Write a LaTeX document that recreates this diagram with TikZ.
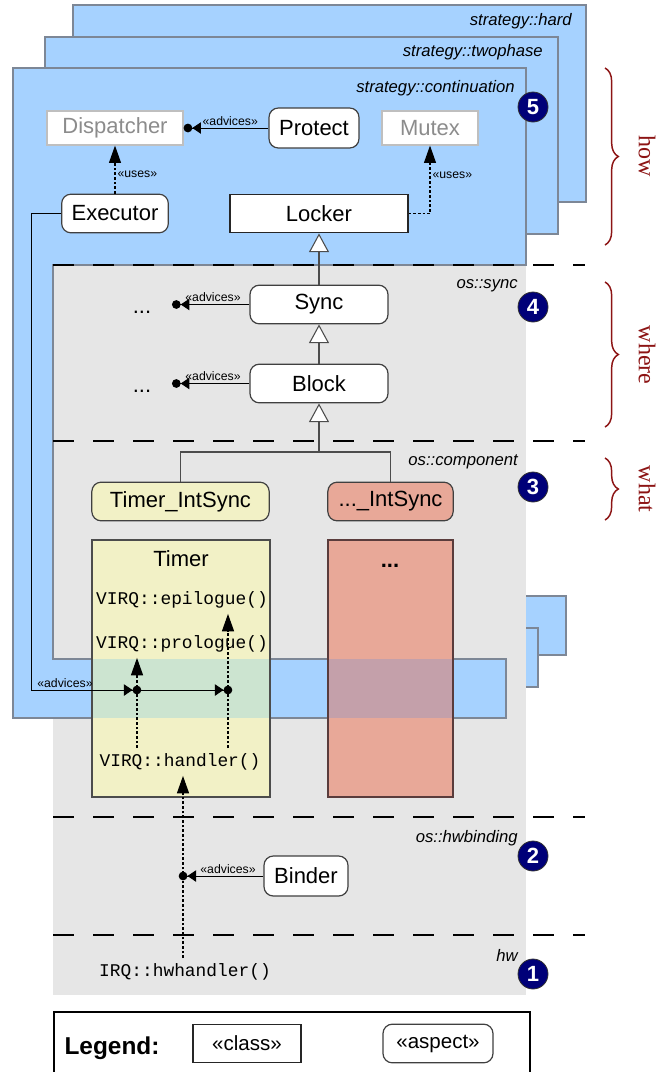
\documentclass[tikz,border=0pt]{standalone}
\usepackage{fontspec}
\setmainfont{Liberation Sans}
\setmonofont{Liberation Mono}
\newfontfamily\braceserif{Liberation Serif}
\usetikzlibrary{arrows.meta}
\usetikzlibrary{decorations.pathreplacing}

\definecolor{panelblue}{RGB}{166,210,255}
\definecolor{panelline}{RGB}{125,135,150}
\definecolor{layergray}{RGB}{230,230,230}
\definecolor{timeryellow}{RGB}{242,241,198}
\definecolor{otherred}{RGB}{232,168,152}
\definecolor{timerband}{RGB}{204,228,208}
\definecolor{otherband}{RGB}{196,160,170}
\definecolor{otherline}{RGB}{90,60,60}
\definecolor{numnavy}{RGB}{0,0,120}
\definecolor{bracered}{RGB}{140,20,20}

\newcommand\boxfont{\fontsize{16.5pt}{19pt}\selectfont}
\newcommand\stereofont{\fontsize{9.2pt}{11pt}\selectfont}
\newcommand\lyrfont{\fontsize{12.5pt}{15pt}\selectfont\itshape}
\newcommand\virqfont{\fontsize{13.4pt}{16pt}\selectfont\ttfamily}
\newcommand\numfont{\fontsize{16.5pt}{18pt}\selectfont\bfseries}
\newcommand\legendfont{\fontsize{15.4pt}{18pt}\selectfont}

\begin{document}
\begin{tikzpicture}[x=0.75pt, y=-0.75pt,
    panel/.style={fill=panelblue, draw=panelline, line width=1.1pt},
    stratpanel/.pic={\draw[panel] (0,0) -- (513,0) -- (513,197) -- (40,197) -- (40,591) -- (493,591) -- (493,650) -- (0,650) -- cycle;},
    aspectbox/.style={draw=black!75, fill=white, rounded corners=7pt, line width=0.9pt, font=\boxfont, minimum height=29pt, inner sep=2pt},
    classbox/.style={draw=black!85, fill=white, line width=0.9pt, font=\boxfont, minimum height=29pt, inner sep=2pt},
    ghost/.style={draw=black!25, fill=white, text=black!45, line width=0.9pt, font=\boxfont, minimum height=25.5pt},
    layerlabel/.style={font=\lyrfont, anchor=east, inner sep=0pt},
    codeline/.style={font=\virqfont, inner sep=4pt},
    stereo/.style={font=\stereofont, inner sep=1.5pt},
    advice/.style={draw=black, line width=0.75pt, -{Triangle[length=6.5pt,width=8.5pt] Circle[length=6.5pt]}},
    onjp/.style={shorten >=-3.2pt},
    uses/.style={draw=black, line width=0.8pt, dash pattern=on 2pt off 1.5pt, -{Triangle[length=13pt,width=9pt]}},
    generalize/.style={draw=black!70, line width=0.8pt, -{Triangle[length=14pt,width=15pt,fill=white]}},
    layersep/.style={draw=black, line width=1.6pt, dash pattern=on 15.75pt off 14.25pt},
    numdot/.style={circle, fill=numnavy, draw=black!80, line width=0.6pt, text=white, font=\numfont, minimum size=22.5pt, inner sep=0pt},
    bracedeco/.style={draw=bracered, line width=1.1pt, decorate, decoration={brace, amplitude=10pt}},
    bracelabel/.style={text=bracered, font=\braceserif\fontsize{18pt}{20pt}\selectfont, rotate=-90}]

    \useasboundingbox (0,0) rectangle (671,1072);

    % strategy panels and the os layers
    \pic at (73,5) {stratpanel};
    \pic at (45,37) {stratpanel};
    \fill[layergray] (53,265) rectangle (526,995);
    \pic at (13,68) {stratpanel};

    \node[layerlabel] (hardlbl) at (572,21) {strategy::hard};
    \node[layerlabel] (twolbl) at (543,52) {strategy::twophase};
    \node[layerlabel] (contlbl) at (515,88) {strategy::continuation};
    \node[layerlabel] (synclbl) at (518,286) {os::sync};
    \node[layerlabel] (complbl) at (518,462) {os::component};
    \node[layerlabel] (hwblbl) at (518,838) {os::hwbinding};
    \node[layerlabel] (hwlbl) at (518,955) {hw};

    % component classes
    \fill[timeryellow] (92,540) rectangle (270,797);
    \fill[timerband] (92,659) rectangle (270,718);
    \draw[black!70, line width=0.8pt] (92,540) rectangle (270,797);
    \fill[otherred] (328,540) rectangle (453,797);
    \fill[otherband] (328,659) rectangle (453,718);
    \draw[otherline, line width=1.2pt] (328,540) rectangle (453,797);
    \node[font=\boxfont] (timer) at (181,559) {Timer};
    \node[font=\boxfont\bfseries, anchor=base] (otherdots) at (390,567) {...};

    \foreach \ly in {265,441,817,935}
        \draw[layersep] (53,\ly) -- (585,\ly);

    \node[ghost, minimum width=102pt] (dispatcher) at (115,128) {Dispatcher};
    \node[aspectbox, minimum width=67.5pt, minimum height=30pt] (protect) at (314,128) {Protect};
    \node[ghost, minimum width=72pt] (mutex) at (430,128) {Mutex};
    \node[aspectbox, minimum width=80pt] (executor) at (115,213.5) {Executor};
    \node[classbox, minimum width=133.5pt] (locker) at (319,213.5) {Locker};
    \node[aspectbox, minimum width=103.5pt] (sync) at (319,304.5) {Sync};
    \node[aspectbox, minimum width=103.5pt] (block) at (319,383.5) {Block};
    \node[aspectbox, fill=timeryellow, minimum width=133pt] (timersync) at (180.5,501.5) {Timer\_IntSync};
    \node[aspectbox, fill=otherred, minimum width=94pt] (othersync) at (390.5,501.5) {...\_IntSync};
    \node[aspectbox, minimum width=63pt, minimum height=30pt] (binder) at (306,876) {Binder};

    \node[codeline] (epilogue) at (182,600) {VIRQ::epilogue()};
    \node[codeline] (prologue) at (182,644) {VIRQ::prologue()};
    \node[codeline] (handler) at (180,762) {VIRQ::handler()};
    \node[codeline] (hwhandler) at (185,972) {IRQ::hwhandler()};

    \node[font=\boxfont, anchor=base] (syncdots) at (142,313.5) {...};
    \node[font=\boxfont, anchor=base] (blockdots) at (142,392.5) {...};
    \coordinate (syncjp) at (172,304.5);
    \coordinate (blockjp) at (172,383.5);
    \coordinate (prologuejp) at (137,690);
    \coordinate (epiloguejp) at (228,690);
    \coordinate (hwjp) at (183,876);
    \coordinate (genjoin) at (319,452);

    % uses and inheritance
    \draw[uses] (executor) -- node[stereo, right, pos=0.4] {«uses»} (dispatcher);
    \draw[uses] (locker.east) -| node[stereo, right, pos=0.785] {«uses»} (mutex.south);
    \draw[generalize] (sync) -- (locker);
    \draw[generalize] (block) -- (sync);
    \draw[draw=black!70, line width=0.8pt] (timersync.north) |- (genjoin) -| (othersync.north);
    \draw[generalize] (genjoin) -- (block.south);

    % control flow
    \draw[uses] (hwhandler.north -| hwjp) -- (handler.south -| hwjp);
    \draw[uses] (handler.north -| prologuejp) -- (prologue.south -| prologuejp);
    \draw[uses] (handler.north -| epiloguejp) -- (epilogue.south -| epiloguejp);

    % advices
    \draw[advice] (protect) -- node[stereo, above, pos=0.45] {«advices»} (dispatcher);
    \draw[advice] (sync.west) -- node[stereo, above, pos=0.47] {«advices»} (syncjp);
    \draw[advice] (block.west) -- node[stereo, above, pos=0.47] {«advices»} (blockjp);
    \draw[advice, onjp] (binder.west) -- node[stereo, above, pos=0.44] {«advices»} (hwjp);
    \draw[advice, onjp] (executor.west) -- ++(-30,0) |- node[stereo, above, pos=0.66] {«advices»} (prologuejp);
    \draw[advice, onjp] (prologuejp) -- (epiloguejp);

    \node[numdot] (num5) at (533,107) {5};
    \node[numdot] (num4) at (533,307) {4};
    \node[numdot] (num3) at (533,487) {3};
    \node[numdot] (num2) at (533,856) {2};
    \node[numdot] (num1) at (533,974) {1};

    \draw[bracedeco] (605,68) -- (605,245);
    \node[bracelabel] (how) at (647,156) {how};
    \draw[bracedeco] (605,282) -- (605,427);
    \node[bracelabel] (where) at (647,355) {where};
    \draw[bracedeco] (605,458) -- (605,520);
    \node[bracelabel] (what) at (647,489) {what};

    % legend
    \draw[black, line width=1.1pt] (54,1012) rectangle (530,1100);
    \node[font=\fontsize{18.3pt}{20pt}\selectfont\bfseries] (legend) at (112,1048) {Legend:};
    \node[classbox, font=\legendfont, minimum width=81pt] (legclass) at (247,1043.5) {«class»};
    \node[aspectbox, font=\legendfont, minimum width=82.5pt] (legaspect) at (438,1043.5) {«aspect»};
\end{tikzpicture}
\end{document}
